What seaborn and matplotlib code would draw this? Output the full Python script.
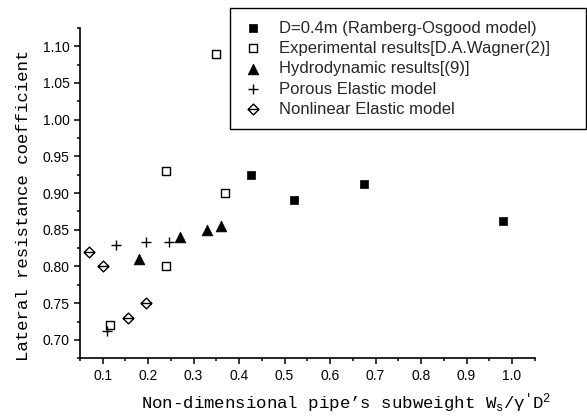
import matplotlib
matplotlib.use("Agg")
import matplotlib.pyplot as plt
import matplotlib.ticker as ticker
from matplotlib.path import Path
import seaborn as sns
import pandas as pd

sns.set_theme(style="ticks")
plt.rcParams['font.family'] = ['Liberation Sans', 'DejaVu Sans']
plt.rcParams['mathtext.fontset'] = 'custom'
plt.rcParams['mathtext.rm'] = 'Liberation Mono'
plt.rcParams['mathtext.it'] = 'Liberation Mono'

# dados
ro_x = [0.427, 0.52, 0.675, 0.98]
ro_y = [0.925, 0.89, 0.913, 0.862]

exp_x = [0.35, 0.24, 0.37, 0.24, 0.116]
exp_y = [1.09, 0.93, 0.90, 0.80, 0.72]

hyd_x = [0.18, 0.27, 0.33, 0.36]
hyd_y = [0.81, 0.84, 0.85, 0.855]

por_x = [0.11, 0.13, 0.195, 0.245]
por_y = [0.712, 0.829, 0.834, 0.834]

nle_x = [0.07, 0.10, 0.155, 0.195]
nle_y = [0.82, 0.80, 0.73, 0.75]

labels = ['D=0.4m (Ramberg-Osgood model)',
          'Experimental results[D.A.Wagner(2)]',
          'Hydrodynamic results[(9)]',
          'Porous Elastic model',
          'Nonlinear Elastic model']

# losango com linha horizontal
diamond = Path([(0, 1), (1, 0), (0, -1), (-1, 0), (0, 1), (-1, 0), (1, 0)],
               [Path.MOVETO, Path.LINETO, Path.LINETO, Path.LINETO, Path.CLOSEPOLY,
                Path.MOVETO, Path.LINETO])

fig = plt.figure(figsize=(5.87, 4.17), dpi=100)
ax = fig.add_axes([0.136, 0.141, 0.775, 0.792])

sns.scatterplot(x=ro_x, y=ro_y, marker='s', s=30, color='black',
                edgecolor='black', linewidth=0.5, ax=ax, label=labels[0])
sns.scatterplot(x=exp_x, y=exp_y, marker='s', s=40, facecolor='white',
                edgecolor='black', linewidth=1.0, ax=ax, label=labels[1])
sns.scatterplot(x=hyd_x, y=hyd_y, marker='^', s=60, color='black',
                edgecolor='black', linewidth=0.5, ax=ax, label=labels[2])
sns.scatterplot(x=por_x, y=por_y, marker='+', s=45, color='black',
                linewidth=1.0, ax=ax, label=labels[3])
sns.scatterplot(x=nle_x, y=nle_y, marker=diamond, s=60, facecolor='white',
                edgecolor='black', linewidth=1.0, ax=ax, label=labels[4])

ax.set_xlim(0.05, 1.05)
ax.set_ylim(0.675, 1.125)
ax.xaxis.set_major_locator(ticker.MultipleLocator(0.1))
ax.xaxis.set_minor_locator(ticker.MultipleLocator(0.05))
ax.yaxis.set_major_locator(ticker.MultipleLocator(0.05))
ax.yaxis.set_minor_locator(ticker.MultipleLocator(0.025))
ax.xaxis.set_major_formatter(ticker.FormatStrFormatter('%.1f'))
ax.yaxis.set_major_formatter(ticker.FormatStrFormatter('%.2f'))
ax.tick_params(which='major', direction='out', length=4, width=1.1,
               labelsize=10, color='black', labelcolor='black')
ax.tick_params(which='minor', direction='out', length=2.5, width=1.1, color='black')

sns.despine(ax=ax)
for sp in ['left', 'bottom']:
    ax.spines[sp].set_color('black')
    ax.spines[sp].set_linewidth(1.2)

ax.set_xlabel("Non-dimensional pipe\u2019s subweight $\\mathrm{W_s/\\gamma^{\\prime}D^2}$",
              family='Liberation Mono', fontsize=12.5, color='black', labelpad=6)
ax.set_ylabel('Lateral resistance coefficient', family='Liberation Mono',
              fontsize=12.5, color='black', labelpad=8)
ax.xaxis.label.set_x(0.585)
ax.yaxis.label.set_y(0.464)

h, l = ax.get_legend_handles_labels()
ax.get_legend().remove()
leg = fig.legend(h, l, loc='upper left', mode='expand',
                 bbox_to_anchor=(230 / 587, 1 - 130 / 417, 356 / 587, 122 / 417),
                 borderaxespad=0,
                 fontsize=12, frameon=True, fancybox=False, framealpha=1,
                 edgecolor='black', labelspacing=0.32, handletextpad=1.0,
                 borderpad=0.75, handlelength=1.2)
leg.get_frame().set_linewidth(1.0)

fig.savefig('out.png', dpi=100)
